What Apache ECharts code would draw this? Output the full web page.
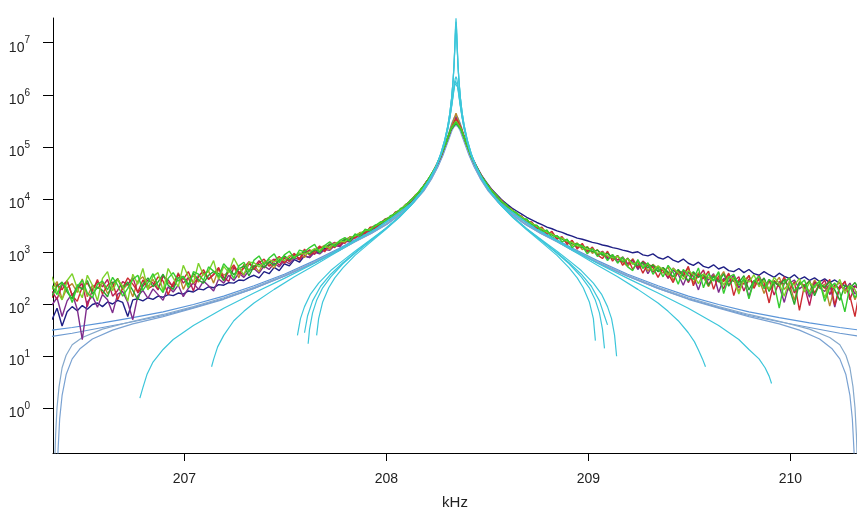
<!DOCTYPE html>
<html>
<head>
<meta charset="utf-8">
<script src="https://cdn.jsdelivr.net/npm/echarts@6/dist/echarts.min.js"></script>
<style>
  html, body { margin: 0; padding: 0; background: #fff; }
  #chart { width: 857px; height: 515px; }
</style>
</head>
<body>
<div id="chart"></div>
<script>
// Sweep frequencies (kHz) shared by the measured traces
const sweepFreqKHz = [
  206.345, 206.37, 206.395, 206.42, 206.445, 206.47, 206.495, 206.52, 206.545, 206.57,
  206.595, 206.62, 206.645, 206.67, 206.695, 206.72, 206.745, 206.77, 206.795, 206.82,
  206.845, 206.87, 206.895, 206.92, 206.945, 206.97, 206.995, 207.02, 207.045, 207.07,
  207.095, 207.12, 207.145, 207.17, 207.195, 207.22, 207.245, 207.27, 207.295, 207.32,
  207.345, 207.37, 207.395, 207.42, 207.445, 207.47, 207.495, 207.52, 207.545, 207.57,
  207.595, 207.62, 207.645, 207.67, 207.695, 207.72, 207.745, 207.77, 207.795, 207.82,
  207.845, 207.87, 207.895, 207.92, 207.945, 207.97, 207.995, 208.02, 208.045, 208.07,
  208.095, 208.12, 208.145, 208.17, 208.195, 208.22, 208.245, 208.27, 208.295, 208.32,
  208.345,
  208.37, 208.395, 208.42, 208.445, 208.47, 208.495, 208.52, 208.545, 208.57, 208.595,
  208.62, 208.645, 208.67, 208.695, 208.72, 208.745, 208.77, 208.795, 208.82, 208.845,
  208.87, 208.895, 208.92, 208.945, 208.97, 208.995, 209.02, 209.045, 209.07, 209.095,
  209.12, 209.145, 209.17, 209.195, 209.22, 209.245, 209.27, 209.295, 209.32, 209.345,
  209.37, 209.395, 209.42, 209.445, 209.47, 209.495, 209.52, 209.545, 209.57, 209.595,
  209.62, 209.645, 209.67, 209.695, 209.72, 209.745, 209.77, 209.795, 209.82, 209.845,
  209.87, 209.895, 209.92, 209.945, 209.97, 209.995, 210.02, 210.045, 210.07, 210.095,
  210.12, 210.145, 210.17, 210.195, 210.22, 210.245, 210.27, 210.295, 210.32, 210.345
];

// Measured traces, log10 of amplitude at each sweep frequency
const traceNavy = [
  1.70,1.92,1.58,1.85,1.95,1.87,1.97,1.90,1.99,2.02,
  1.95,2.04,2.00,2.07,2.03,1.76,2.08,2.10,2.06,2.12,
  2.09,2.15,2.13,2.18,2.16,2.21,2.19,2.25,2.23,2.29,
  2.27,2.33,2.31,2.37,2.36,2.41,2.40,2.46,2.45,2.51,
  2.55,2.50,2.62,2.58,2.70,2.64,2.77,2.73,2.85,2.80,
  2.92,2.89,3.00,2.98,3.06,3.08,3.14,3.16,3.22,3.24,
  3.30,3.33,3.39,3.43,3.49,3.54,3.61,3.66,3.74,3.80,
  3.89,3.97,4.08,4.18,4.32,4.45,4.63,4.83,5.08,5.34,
  5.47,
  5.36,5.10,4.85,4.65,4.47,4.33,4.20,4.10,4.00,3.92,
  3.84,3.78,3.72,3.66,3.61,3.56,3.52,3.47,3.44,3.40,
  3.37,3.33,3.30,3.26,3.24,3.21,3.18,3.16,3.13,3.11,
  3.08,3.06,3.03,3.01,2.98,3.00,2.94,2.92,2.96,2.89,
  2.86,2.91,2.84,2.80,2.86,2.78,2.74,2.80,2.72,2.69,
  2.75,2.67,2.71,2.64,2.62,2.68,2.60,2.66,2.58,2.55,
  2.62,2.56,2.51,2.59,2.53,2.49,2.56,2.47,2.52,2.45,
  2.50,2.43,2.48,2.41,2.46,2.39,2.35,2.30,2.34,2.28
];
const tracePurple = [
  1.98,2.12,1.76,2.06,2.20,1.90,1.32,2.04,2.15,1.94,
  2.18,2.08,1.83,2.19,2.24,2.03,1.70,2.16,2.26,2.11,
  2.29,2.18,2.07,2.33,2.23,2.36,2.14,2.30,2.40,2.28,
  2.44,2.35,2.25,2.48,2.40,2.55,2.45,2.59,2.51,2.64,
  2.68,2.59,2.73,2.66,2.78,2.71,2.83,2.77,2.88,2.85,
  2.92,2.89,2.99,2.96,3.04,3.03,3.12,3.10,3.20,3.19,
  3.28,3.29,3.37,3.39,3.47,3.50,3.59,3.62,3.72,3.77,
  3.87,3.95,4.06,4.16,4.30,4.44,4.62,4.82,5.07,5.33,
  5.58,
  5.36,5.09,4.83,4.63,4.46,4.31,4.19,4.07,3.98,3.88,
  3.81,3.72,3.67,3.59,3.55,3.47,3.44,3.36,3.34,3.27,
  3.26,3.17,3.19,3.09,3.12,3.01,3.05,2.93,3.00,2.86,
  2.92,2.80,2.88,2.73,2.84,2.66,2.79,2.58,2.74,2.62,
  2.68,2.49,2.65,2.57,2.36,2.61,2.53,2.27,2.56,2.46,
  2.58,2.22,2.49,2.43,2.55,2.31,2.47,2.14,2.44,2.37,
  2.49,2.26,2.41,2.35,2.03,2.40,2.46,2.29,2.37,2.13,
  2.43,2.31,2.24,2.38,1.94,2.35,2.27,2.40,2.19,2.30
];
const traceOrange = [
  2.28,2.43,2.09,2.31,2.39,2.22,2.48,2.14,2.36,2.30,
  2.41,2.20,2.33,2.49,2.27,2.38,2.14,2.44,2.52,2.33,
  2.47,2.29,2.55,2.41,2.34,2.60,2.28,2.49,2.54,2.42,
  2.58,2.63,2.40,2.67,2.55,2.61,2.72,2.50,2.76,2.65,
  2.74,2.62,2.81,2.77,2.69,2.85,2.90,2.81,2.93,2.96,
  2.89,3.04,2.98,3.07,3.12,3.04,3.17,3.14,3.25,3.22,
  3.31,3.36,3.34,3.46,3.50,3.52,3.63,3.66,3.71,3.81,
  3.89,3.98,4.07,4.19,4.31,4.46,4.63,4.84,5.08,5.38,
  5.65,
  5.38,5.10,4.82,4.64,4.45,4.30,4.18,4.08,3.96,3.89,
  3.79,3.74,3.64,3.61,3.52,3.49,3.41,3.37,3.35,3.25,
  3.27,3.18,3.12,3.17,3.04,3.10,2.97,3.04,2.92,2.98,
  2.86,2.92,2.80,2.72,2.87,2.70,2.81,2.63,2.76,2.67,
  2.59,2.71,2.45,2.63,2.57,2.69,2.40,2.60,2.51,2.33,
  2.56,2.47,2.62,2.37,2.51,2.24,2.46,2.53,2.35,2.48,
  2.20,2.44,2.38,2.51,2.28,2.40,2.07,2.43,2.35,2.24,
  2.46,2.30,2.38,1.96,2.33,2.41,2.25,2.36,2.08,2.32
];
const traceCrimson = [
  2.24,2.09,2.36,2.44,2.17,2.30,2.39,1.95,2.28,2.42,
  2.33,2.47,2.15,2.26,2.43,2.37,2.51,2.21,2.34,2.46,
  2.40,2.27,2.53,2.46,2.32,2.58,2.40,2.51,2.25,2.55,
  2.61,2.47,2.56,2.68,2.51,2.43,2.70,2.62,2.55,2.77,
  2.70,2.83,2.69,2.80,2.86,2.74,2.88,2.82,2.95,2.87,
  2.98,3.03,2.95,3.09,3.02,3.13,3.18,3.11,3.24,3.27,
  3.27,3.35,3.39,3.42,3.50,3.53,3.61,3.67,3.72,3.81,
  3.87,3.98,4.07,4.17,4.32,4.45,4.62,4.84,5.07,5.35,
  5.52,
  5.35,5.08,4.84,4.62,4.45,4.32,4.17,4.08,3.96,3.89,
  3.80,3.72,3.67,3.58,3.56,3.46,3.45,3.36,3.35,3.26,
  3.27,3.18,3.20,3.08,3.13,3.02,3.06,2.95,3.01,2.89,
  2.94,2.84,2.90,2.77,2.85,2.69,2.82,2.74,2.61,2.72,
  2.64,2.50,2.69,2.58,2.63,2.41,2.59,2.52,2.65,2.37,
  2.54,2.46,2.29,2.57,2.43,2.52,2.25,2.48,2.39,2.55,
  2.32,2.46,2.17,2.43,2.38,2.50,2.21,2.40,2.34,1.97,
  2.42,2.33,2.46,2.18,2.37,2.29,2.44,2.08,2.35,2.26
];
const traceRed = [
  2.12,2.38,2.27,2.45,2.16,2.05,2.33,2.40,2.24,2.47,
  2.19,2.36,2.42,2.08,2.31,2.50,2.38,2.23,2.46,2.29,
  2.35,2.52,2.44,2.18,2.40,2.56,2.47,2.62,2.39,2.51,
  2.66,2.48,2.57,2.70,2.44,2.63,2.75,2.58,2.69,2.81,
  2.66,2.79,2.86,2.72,2.83,2.91,2.78,2.89,2.97,2.84,
  3.05,2.93,3.02,3.11,3.00,3.15,3.08,3.20,3.16,3.29,
  3.26,3.37,3.35,3.47,3.45,3.56,3.62,3.64,3.76,3.79,
  3.90,3.96,4.09,4.17,4.32,4.44,4.64,4.82,5.09,5.34,
  5.55,
  5.37,5.07,4.84,4.62,4.46,4.30,4.19,4.05,3.99,3.86,
  3.82,3.70,3.68,3.56,3.57,3.44,3.47,3.33,3.39,3.24,
  3.29,3.14,3.22,3.05,3.16,2.99,3.09,2.94,2.87,3.01,
  2.82,2.93,2.74,2.88,2.66,2.81,2.59,2.77,2.70,2.51,
  2.69,2.58,2.41,2.64,2.53,2.72,2.35,2.57,2.49,2.63,
  2.28,2.54,2.43,2.59,2.16,2.47,2.38,2.55,2.30,2.49,
  2.41,2.02,2.45,2.33,2.52,2.26,2.43,1.88,2.36,2.44,
  2.21,2.39,2.30,2.47,1.98,2.34,2.42,2.15,1.76,2.31
];
const traceDarkGreen = [
  2.16,2.34,2.42,2.23,2.10,2.37,2.28,2.45,2.19,2.32,
  2.26,2.14,2.40,2.48,2.30,2.42,2.26,2.08,2.38,2.50,
  2.33,2.42,2.57,2.36,2.28,2.50,2.53,2.37,2.59,2.46,
  2.40,2.55,2.62,2.58,2.45,2.69,2.56,2.67,2.73,2.54,
  2.72,2.76,2.70,2.81,2.74,2.84,2.92,2.85,2.90,2.94,
  3.01,2.96,3.04,3.00,3.09,3.14,3.11,3.19,3.23,3.21,
  3.32,3.31,3.41,3.41,3.51,3.52,3.62,3.65,3.75,3.79,
  3.90,3.96,4.08,4.17,4.31,4.45,4.63,4.83,5.08,5.34,
  5.46,
  5.34,5.08,4.83,4.63,4.45,4.31,4.18,4.07,3.97,3.88,
  3.80,3.74,3.65,3.61,3.53,3.50,3.42,3.39,3.32,3.30,
  3.24,3.22,3.15,3.15,3.08,3.08,3.00,3.03,2.94,2.97,
  2.88,2.92,2.81,2.87,2.78,2.74,2.80,2.69,2.75,2.62,
  2.70,2.61,2.52,2.66,2.55,2.44,2.62,2.51,2.57,2.35,
  2.53,2.42,2.58,2.34,2.49,2.41,2.54,2.27,2.45,2.39,
  2.50,2.24,2.43,2.35,2.47,2.30,1.99,2.41,2.33,2.44,
  2.16,2.39,2.32,2.43,2.27,2.07,2.36,2.30,2.41,2.25
];
const traceLime = [
  2.52,2.24,2.08,2.45,2.58,2.30,2.12,2.55,2.36,2.06,
  2.49,2.62,2.25,2.47,2.34,2.05,2.57,2.38,2.68,2.27,
  2.53,2.60,2.25,2.68,2.50,2.33,2.74,2.52,2.40,2.78,
  2.55,2.63,2.83,2.47,2.72,2.60,2.88,2.70,2.56,2.80,
  2.79,2.71,2.78,2.85,2.80,2.88,2.83,2.93,2.90,2.98,
  2.95,3.00,3.06,3.03,3.10,3.08,3.16,3.20,3.19,3.28,
  3.30,3.36,3.40,3.44,3.49,3.55,3.60,3.67,3.74,3.80,
  3.89,3.97,4.08,4.18,4.31,4.46,4.63,4.84,5.08,5.35,
  5.50,
  5.35,5.08,4.83,4.63,4.45,4.31,4.18,4.07,3.97,3.88,
  3.81,3.73,3.67,3.60,3.55,3.48,3.44,3.37,3.34,3.28,
  3.26,3.20,3.18,3.11,3.11,3.04,3.05,2.97,2.99,2.92,
  2.89,2.91,2.83,2.86,2.76,2.81,2.72,2.77,2.64,2.73,
  2.66,2.55,2.68,2.60,2.47,2.64,2.56,2.39,2.58,2.50,
  2.44,2.60,2.36,2.53,2.47,2.19,2.50,2.42,2.56,2.33,
  2.45,2.28,2.51,2.39,2.15,2.44,2.36,2.49,2.23,2.41,
  2.31,2.45,2.12,2.38,2.30,2.47,2.20,2.36,2.28,1.99
];
const traceGreen = [
  2.35,2.18,2.41,2.29,2.03,2.33,2.46,2.21,2.12,2.38,
  2.44,2.27,2.51,2.36,2.15,2.30,2.47,2.55,2.26,2.41,
  2.58,2.35,2.22,2.49,2.60,2.44,2.53,2.31,2.62,2.57,
  2.45,2.71,2.63,2.52,2.77,2.66,2.49,2.73,2.80,2.61,
  2.84,2.92,2.75,2.88,2.96,2.79,2.94,3.01,2.87,3.03,
  3.00,3.08,3.14,2.98,3.12,3.19,3.10,3.22,3.27,3.20,
  3.34,3.30,3.43,3.40,3.50,3.57,3.58,3.69,3.72,3.83,
  3.86,3.99,4.06,4.20,4.30,4.47,4.62,4.85,5.07,5.36,
  5.48,
  5.33,5.09,4.82,4.64,4.44,4.32,4.16,4.08,3.95,3.90,
  3.77,3.75,3.62,3.63,3.49,3.51,3.37,3.42,3.27,3.31,
  3.19,3.24,3.08,3.15,3.11,2.96,3.06,2.91,2.99,2.83,
  2.95,2.78,2.90,2.71,2.64,2.85,2.68,2.79,2.57,2.70,
  2.52,2.74,2.61,2.38,2.66,2.55,2.47,2.69,2.31,2.58,
  2.45,2.62,2.20,2.51,2.57,2.36,2.48,2.10,2.44,2.53,
  2.29,2.47,2.39,1.92,2.42,2.50,2.25,2.37,2.46,2.18,
  2.35,2.43,2.05,2.31,2.40,2.22,1.85,2.34,2.12,2.29
];

// Fitted resonance curves: [frequency kHz, log10 amplitude]
const fitBlue1 = [
  [206.345,1.50],[206.445,1.55],[206.595,1.64],[206.745,1.74],[206.895,1.85],[207.045,1.99],[207.195,2.15],[207.345,2.35],
  [207.495,2.57],[207.645,2.83],[207.765,3.06],[207.845,3.23],[207.925,3.40],[208.005,3.58],[208.075,3.78],[208.135,4.00],
  [208.185,4.22],[208.225,4.46],[208.255,4.69],[208.280,4.92],[208.300,5.15],[208.315,5.35],[208.325,5.47],[208.335,5.56],
  [208.345,5.60],
  [208.355,5.56],[208.365,5.47],[208.375,5.35],[208.390,5.15],[208.410,4.92],[208.435,4.69],[208.465,4.46],[208.505,4.22],
  [208.555,4.00],[208.615,3.78],[208.685,3.58],[208.765,3.40],[208.845,3.23],[208.925,3.06],[209.045,2.83],[209.195,2.57],
  [209.345,2.35],[209.495,2.15],[209.645,1.99],[209.795,1.85],[209.945,1.74],[210.095,1.64],[210.245,1.55],[210.345,1.50]
];
const fitBlue2 = [
  [206.345,1.38],[206.445,1.44],[206.595,1.55],[206.745,1.66],[206.895,1.78],[207.045,1.93],[207.195,2.10],[207.345,2.30],
  [207.495,2.53],[207.645,2.79],[207.765,3.02],[207.845,3.19],[207.925,3.35],[208.005,3.53],[208.075,3.73],[208.135,3.94],
  [208.185,4.17],[208.225,4.41],[208.255,4.63],[208.280,4.86],[208.300,5.08],[208.315,5.25],[208.325,5.37],[208.335,5.45],
  [208.345,5.48],
  [208.355,5.45],[208.365,5.37],[208.375,5.25],[208.390,5.08],[208.410,4.86],[208.435,4.63],[208.465,4.41],[208.505,4.17],
  [208.555,3.94],[208.615,3.73],[208.685,3.53],[208.765,3.35],[208.845,3.19],[208.925,3.02],[209.045,2.79],[209.195,2.53],
  [209.345,2.30],[209.495,2.10],[209.645,1.93],[209.795,1.78],[209.945,1.66],[210.095,1.55],[210.245,1.44],[210.345,1.38]
];
const fitBlue3 = [
  [206.357,-1.20],[206.363,-0.50],[206.370,0.02],[206.380,0.42],[206.395,0.78],[206.415,1.02],[206.445,1.22],[206.495,1.36],
  [206.595,1.52],[206.745,1.67],[206.895,1.80],[207.045,1.95],[207.195,2.12],[207.345,2.32],[207.495,2.55],[207.645,2.81],
  [207.765,3.04],[207.845,3.21],[207.925,3.37],[208.005,3.55],[208.075,3.75],[208.135,3.97],[208.185,4.19],[208.225,4.43],
  [208.255,4.66],[208.280,4.89],[208.300,5.11],[208.315,5.29],[208.325,5.41],[208.335,5.49],
  [208.345,5.52],
  [208.355,5.49],[208.365,5.41],[208.375,5.29],[208.390,5.11],[208.410,4.89],[208.435,4.66],[208.465,4.43],[208.505,4.19],
  [208.555,3.97],[208.615,3.75],[208.685,3.55],[208.765,3.37],[208.845,3.21],[208.925,3.04],[209.045,2.81],[209.195,2.55],
  [209.345,2.32],[209.495,2.12],[209.645,1.95],[209.795,1.80],[209.945,1.67],[210.095,1.52],[210.195,1.36],[210.245,1.22],
  [210.275,1.02],[210.295,0.78],[210.310,0.42],[210.320,0.02],[210.327,-0.50],[210.333,-1.20]
];
const fitBlue4 = [
  [206.370,-1.30],[206.375,-0.80],[206.383,-0.20],[206.395,0.25],[206.415,0.65],[206.445,0.95],[206.485,1.15],[206.545,1.33],
  [206.645,1.50],[206.745,1.62],[206.895,1.76],[207.045,1.92],[207.195,2.09],[207.345,2.30],[207.495,2.53],[207.645,2.79],
  [207.765,3.02],[207.845,3.19],[207.925,3.35],[208.005,3.53],[208.075,3.73],[208.135,3.94],[208.185,4.16],[208.225,4.40],
  [208.255,4.62],[208.280,4.84],[208.300,5.05],[208.315,5.21],[208.325,5.32],[208.335,5.39],
  [208.345,5.42],
  [208.355,5.39],[208.365,5.32],[208.375,5.21],[208.390,5.05],[208.410,4.84],[208.435,4.62],[208.465,4.40],[208.505,4.16],
  [208.555,3.94],[208.615,3.73],[208.685,3.53],[208.765,3.35],[208.845,3.19],[208.925,3.02],[209.045,2.79],[209.195,2.53],
  [209.345,2.30],[209.495,2.09],[209.645,1.92],[209.795,1.76],[209.945,1.62],[210.045,1.50],[210.145,1.33],[210.205,1.15],
  [210.245,0.95],[210.275,0.65],[210.295,0.25],[210.307,-0.20],[210.315,-0.80],[210.320,-1.30]
];
const fitCyan1 = [
  [207.655,1.40],[207.665,1.72],[207.685,2.04],[207.715,2.31],[207.745,2.50],[207.785,2.69],[207.845,2.93],[207.915,3.16],
  [207.995,3.42],[208.065,3.66],[208.125,3.90],[208.175,4.15],[208.215,4.39],[208.245,4.62],[208.270,4.88],[208.290,5.15],
  [208.305,5.43],[208.315,5.67],[208.323,5.94],[208.330,6.25],[208.335,6.57],[208.339,6.93],[208.342,7.26],
  [208.345,7.47],
  [208.348,7.26],[208.351,6.93],[208.355,6.57],[208.360,6.25],[208.367,5.94],[208.375,5.67],[208.385,5.43],[208.400,5.15],
  [208.420,4.88],[208.445,4.62],[208.475,4.39],[208.515,4.15],[208.565,3.90],[208.625,3.66],[208.695,3.42],[208.775,3.16],
  [208.845,2.93],[208.905,2.69],[208.945,2.50],[208.975,2.31],[209.005,2.04],[209.025,1.72],[209.035,1.30]
];
const fitCyan2 = [
  [207.613,1.24],[207.620,1.52],[207.635,1.83],[207.655,2.07],[207.685,2.31],[207.725,2.52],[207.785,2.77],[207.845,2.97],
  [207.915,3.19],[207.995,3.44],[208.065,3.67],[208.125,3.91],[208.175,4.15],[208.215,4.39],[208.245,4.62],[208.270,4.88],
  [208.290,5.15],[208.305,5.42],[208.315,5.67],[208.323,5.93],[208.330,6.25],[208.335,6.56],[208.339,6.91],[208.342,7.22],
  [208.345,7.40],
  [208.348,7.22],[208.351,6.91],[208.355,6.56],[208.360,6.25],[208.367,5.93],[208.375,5.67],[208.385,5.42],[208.400,5.15],
  [208.420,4.88],[208.445,4.62],[208.475,4.39],[208.515,4.15],[208.565,3.91],[208.625,3.67],[208.695,3.44],[208.775,3.19],
  [208.845,2.97],[208.905,2.77],[208.965,2.52],[209.005,2.31],[209.035,2.07],[209.055,1.83],[209.070,1.52],[209.080,1.15]
];
const fitCyan3 = [
  [207.595,1.45],[207.610,1.77],[207.635,2.06],[207.675,2.34],[207.725,2.57],[207.785,2.79],[207.845,2.98],[207.915,3.19],
  [207.995,3.43],[208.065,3.67],[208.125,3.90],[208.175,4.14],[208.215,4.38],[208.245,4.61],[208.270,4.85],[208.290,5.12],
  [208.305,5.37],[208.315,5.59],[208.325,5.85],[208.332,6.07],[208.337,6.22],[208.341,6.31],
  [208.345,6.35],
  [208.349,6.31],[208.353,6.22],[208.358,6.07],[208.365,5.85],[208.375,5.59],[208.385,5.37],[208.400,5.12],[208.420,4.85],
  [208.445,4.61],[208.475,4.38],[208.515,4.14],[208.565,3.90],[208.625,3.67],[208.695,3.43],[208.775,3.19],[208.845,2.98],
  [208.905,2.79],[208.965,2.57],[209.015,2.34],[209.055,2.06],[209.080,1.77],[209.095,1.60]
];
const fitCyan4 = [
  [207.560,1.40],[207.575,1.72],[207.595,1.95],[207.625,2.19],[207.665,2.40],[207.725,2.64],[207.785,2.83],[207.845,3.01],
  [207.915,3.21],[207.995,3.44],[208.065,3.67],[208.125,3.90],[208.175,4.14],[208.215,4.38],[208.245,4.61],[208.270,4.85],
  [208.290,5.11],[208.305,5.37],[208.315,5.58],[208.325,5.84],[208.332,6.04],[208.337,6.18],[208.341,6.27],
  [208.345,6.30],
  [208.349,6.27],[208.353,6.18],[208.358,6.04],[208.365,5.84],[208.375,5.58],[208.385,5.37],[208.400,5.11],[208.420,4.85],
  [208.445,4.61],[208.475,4.38],[208.515,4.14],[208.565,3.90],[208.625,3.67],[208.695,3.44],[208.775,3.21],[208.845,3.01],
  [208.905,2.83],[208.965,2.64],[209.025,2.40],[209.065,2.19],[209.095,1.95],[209.115,1.72],[209.130,1.40],[209.140,1.00]
];
const fitCyan5 = [
  [207.135,0.80],[207.145,0.94],[207.165,1.18],[207.195,1.40],[207.245,1.68],[207.295,1.86],[207.345,2.02],[207.445,2.28],
  [207.545,2.52],[207.645,2.74],[207.745,2.97],[207.845,3.20],[207.945,3.42],[208.045,3.69],[208.125,3.92],[208.175,4.15],
  [208.215,4.39],[208.245,4.62],[208.270,4.87],[208.290,5.14],[208.305,5.41],[208.315,5.66],[208.323,5.92],[208.330,6.23],
  [208.335,6.54],[208.339,6.87],[208.342,7.15],
  [208.345,7.30],
  [208.348,7.15],[208.351,6.87],[208.355,6.54],[208.360,6.23],[208.367,5.92],[208.375,5.66],[208.385,5.41],[208.400,5.14],
  [208.420,4.87],[208.445,4.62],[208.475,4.39],[208.515,4.15],[208.565,3.92],[208.645,3.69],[208.745,3.42],[208.845,3.20],
  [208.945,2.97],[209.045,2.74],[209.145,2.52],[209.245,2.28],[209.345,2.02],[209.395,1.86],[209.445,1.68],[209.495,1.45],
  [209.525,1.28],[209.545,1.12],[209.565,0.95],[209.580,0.80]
];
const fitCyan6 = [
  [206.780,0.20],[206.795,0.40],[206.815,0.65],[206.845,0.89],[206.895,1.13],[206.945,1.32],[207.045,1.59],[207.195,1.92],
  [207.345,2.21],[207.495,2.49],[207.645,2.78],[207.745,3.00],[207.845,3.22],[207.945,3.43],[208.045,3.70],[208.125,3.93],
  [208.175,4.15],[208.215,4.39],[208.245,4.61],[208.270,4.85],[208.290,5.11],[208.305,5.36],[208.315,5.57],[208.325,5.82],
  [208.332,6.02],[208.337,6.15],[208.341,6.22],
  [208.345,6.25],
  [208.349,6.22],[208.353,6.15],[208.358,6.02],[208.365,5.82],[208.375,5.57],[208.385,5.36],[208.400,5.11],[208.420,4.85],
  [208.445,4.61],[208.475,4.39],[208.515,4.15],[208.565,3.93],[208.645,3.70],[208.745,3.43],[208.845,3.22],[208.945,3.00],
  [209.045,2.78],[209.195,2.49],[209.345,2.21],[209.495,1.92],[209.645,1.59],[209.745,1.32],[209.795,1.13],[209.845,0.95],
  [209.875,0.78],[209.895,0.62],[209.907,0.48]
];

// Axis ticks
const freqTicks = [207, 208, 209, 210];
const decadeExponents = [0, 1, 2, 3, 4, 5, 6, 7];

const FONT = "'Liberation Sans', Arial, sans-serif";
const decadeValues = decadeExponents.map(e => Math.pow(10, e));

function sweepSeries(logs) {
  return sweepFreqKHz.map((f, i) => [f, Math.pow(10, logs[i])]);
}
function curveSeries(pairs) {
  return pairs.map(p => [p[0], Math.pow(10, p[1])]);
}
function line(data, color, width) {
  return {
    type: 'line', data: data, symbol: 'none', showSymbol: false,
    silent: true, clip: true, animation: false,
    lineStyle: { width: width, color: color }, itemStyle: { color: color }
  };
}
const TRACE_W = 1.4;
const FIT_W = 1.2;

const chart = echarts.init(document.getElementById('chart'), null, { renderer: 'canvas' });
chart.setOption({
  animation: false,
  backgroundColor: '#ffffff',
  grid: { left: 53, right: 0, top: 18, bottom: 57 },
  xAxis: {
    type: 'value', min: 206.35, max: 210.33,
    name: 'kHz', nameLocation: 'middle', nameGap: 42,
    nameTextStyle: { color: '#222', fontSize: 15, fontFamily: FONT },
    axisLine: { show: true, onZero: false, lineStyle: { color: '#000', width: 1 } },
    axisTick: { show: true, length: 8, customValues: freqTicks, lineStyle: { color: '#000' } },
    axisLabel: { customValues: freqTicks, margin: 19, color: '#222', fontSize: 14, fontFamily: FONT },
    splitLine: { show: false }
  },
  yAxis: {
    type: 'log', logBase: 10, min: 0.1409, max: 2.972e7,
    axisLine: { show: true, onZero: false, lineStyle: { color: '#000', width: 1 } },
    axisTick: { show: true, length: 10, customValues: decadeValues, lineStyle: { color: '#000' } },
    axisLabel: {
      customValues: decadeValues, margin: 23, color: '#222',
      formatter: function (v) {
        return '{b|10}{e|' + Math.round(Math.log10(v)) + '}';
      },
      rich: {
        b: { fontSize: 14, lineHeight: 14, fontFamily: FONT, color: '#222', padding: [13, 0, 3, 0] },
        e: { fontSize: 10, lineHeight: 8, fontFamily: FONT, color: '#222', verticalAlign: 'top' }
      }
    },
    splitLine: { show: false }
  },
  series: [
    line(curveSeries(fitBlue1), '#5b95d8', FIT_W),
    line(curveSeries(fitBlue2), '#6d9ad0', FIT_W),
    line(curveSeries(fitBlue3), '#86a9cc', FIT_W),
    line(curveSeries(fitBlue4), '#7aa2d2', FIT_W),
    line(sweepSeries(traceNavy), '#1f1f85', TRACE_W),
    line(sweepSeries(tracePurple), '#7e2c8c', TRACE_W),
    line(sweepSeries(traceOrange), '#b8862c', TRACE_W),
    line(sweepSeries(traceCrimson), '#b81d55', TRACE_W),
    line(sweepSeries(traceRed), '#cc2a30', TRACE_W),
    line(sweepSeries(traceDarkGreen), '#2aa52a', TRACE_W),
    line(sweepSeries(traceLime), '#7cd12a', TRACE_W),
    line(sweepSeries(traceGreen), '#35cc30', TRACE_W),
    line(curveSeries(fitCyan6), '#3cc6da', FIT_W),
    line(curveSeries(fitCyan5), '#3cc6da', FIT_W),
    line(curveSeries(fitCyan4), '#3cc6da', FIT_W),
    line(curveSeries(fitCyan3), '#3cc6da', FIT_W),
    line(curveSeries(fitCyan2), '#3cc6da', FIT_W),
    line(curveSeries(fitCyan1), '#3cc6da', FIT_W)
  ]
});
</script>
</body>
</html>
